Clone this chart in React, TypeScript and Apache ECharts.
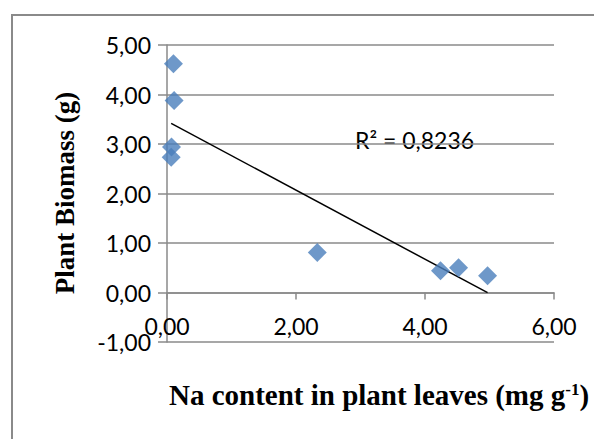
import React, { useEffect, useRef } from "react";
import * as echarts from "echarts";

const naContent = [0.1, 0.11, 0.07, 0.065, 2.33, 4.24, 4.52, 4.97];
const biomass = [4.62, 3.88, 2.94, 2.73, 0.81, 0.44, 0.5, 0.34];
const rSquaredText = "R² = 0,8236";
const xTicks = { min: 0, max: 6, interval: 2 };
const yTicks = { min: -1, max: 5, interval: 1 };

function fit(xs: number[], ys: number[]) {
  const n = xs.length;
  const mx = xs.reduce((a, b) => a + b, 0) / n;
  const my = ys.reduce((a, b) => a + b, 0) / n;
  let sxy = 0;
  let sxx = 0;
  for (let i = 0; i < n; i++) {
    sxy += (xs[i] - mx) * (ys[i] - my);
    sxx += (xs[i] - mx) * (xs[i] - mx);
  }
  const slope = sxy / sxx;
  const intercept = my - slope * mx;
  return { slope, intercept };
}

const fmt = (v: number) => v.toFixed(2).replace(".", ",");

const GRID_TOP = 45;
const GRID_BOTTOM = 97;
const H = 439;

export default function App() {
  const ref = useRef<HTMLDivElement>(null);
  useEffect(() => {
    if (!ref.current) return;
    const chart = echarts.init(ref.current, undefined, { renderer: "svg" });
    const { slope, intercept } = fit(naContent, biomass);
    const x0 = Math.min(...naContent);
    const x1 = Math.max(...naContent);
    const trend = [
      [x0, intercept + slope * x0],
      [x1, intercept + slope * x1],
    ];
    const gridColor = "#8a8a8a";
    const plotH = H - GRID_TOP - GRID_BOTTOM;
    const zeroOffset = -((0 - yTicks.min) / (yTicks.max - yTicks.min)) * plotH;
    chart.setOption({
      animation: false,
      backgroundColor: "#ffffff",
      grid: { left: 167, right: 40, top: GRID_TOP, bottom: GRID_BOTTOM },
      xAxis: {
        type: "value",
        min: xTicks.min,
        max: xTicks.max,
        interval: xTicks.interval,
        offset: zeroOffset,
        axisLine: { show: true, onZero: false, lineStyle: { color: gridColor, width: 1.5 } },
        axisTick: { show: true, length: 7, lineStyle: { color: gridColor, width: 1.5 } },
        splitLine: { show: false },
        axisLabel: {
          color: "#000",
          fontFamily: "Lato",
          fontSize: 23,
          margin: 22,
          formatter: fmt,
        },
      },
      yAxis: {
        type: "value",
        min: yTicks.min,
        max: yTicks.max,
        interval: yTicks.interval,
        axisLine: { show: true, onZero: false, lineStyle: { color: gridColor, width: 1.5 } },
        axisTick: { show: true, length: 9, lineStyle: { color: gridColor, width: 1.5 } },
        splitLine: { show: true, lineStyle: { color: gridColor, width: 1.5 } },
        axisLabel: {
          color: "#000",
          fontFamily: "Lato",
          fontSize: 23,
          margin: 16,
          formatter: fmt,
        },
      },
      series: [
        {
          type: "line",
          data: trend,
          symbol: "none",
          lineStyle: { color: "#000", width: 1.5 },
          z: 3,
        },
        {
          type: "scatter",
          data: naContent.map((x, i) => [x, biomass[i]]),
          symbol: "diamond",
          symbolSize: [19, 19],
          itemStyle: { color: "#4a7ebb" },
          z: 4,
        },
      ],
      graphic: [
        {
          type: "rect",
          shape: { x: 12, y: 15, width: 700, height: 600 },
          style: { fill: "none", stroke: "#8a8a8a", lineWidth: 2 },
          silent: true,
        },
        {
          type: "text",
          x: 355,
          y: 140,
          style: {
            text: rSquaredText,
            fontFamily: "Lato",
            fontSize: 23,
            fill: "#000",
            verticalAlign: "middle",
          },
        },
        {
          type: "text",
          x: 65,
          y: 193,
          rotation: Math.PI / 2,
          style: {
            text: "Plant Biomass (g)",
            fontFamily: "Liberation Serif",
            fontWeight: "bold",
            fontSize: 27,
            fill: "#000",
            align: "center",
            verticalAlign: "middle",
          },
        },
        {
          type: "text",
          x: 379,
          y: 395,
          style: {
            text: "{a|Na content in plant leaves (mg g}{s|-1}{a|)}",
            align: "center",
            verticalAlign: "middle",
            rich: {
              a: { fontFamily: "Liberation Serif", fontWeight: "bold", fontSize: 29, fill: "#000", color: "#000" },
              s: {
                fontFamily: "Liberation Serif",
                fontWeight: "bold",
                fontSize: 17,
                lineHeight: 17,
                fill: "#000",
                color: "#000",
                verticalAlign: "top",
              },
            },
          },
        },
      ],
    });
    return () => chart.dispose();
  }, []);
  return (
    <div
      ref={ref}
      style={{ position: "fixed", left: 0, top: 0, width: 594, height: 439 }}
    />
  );
}
